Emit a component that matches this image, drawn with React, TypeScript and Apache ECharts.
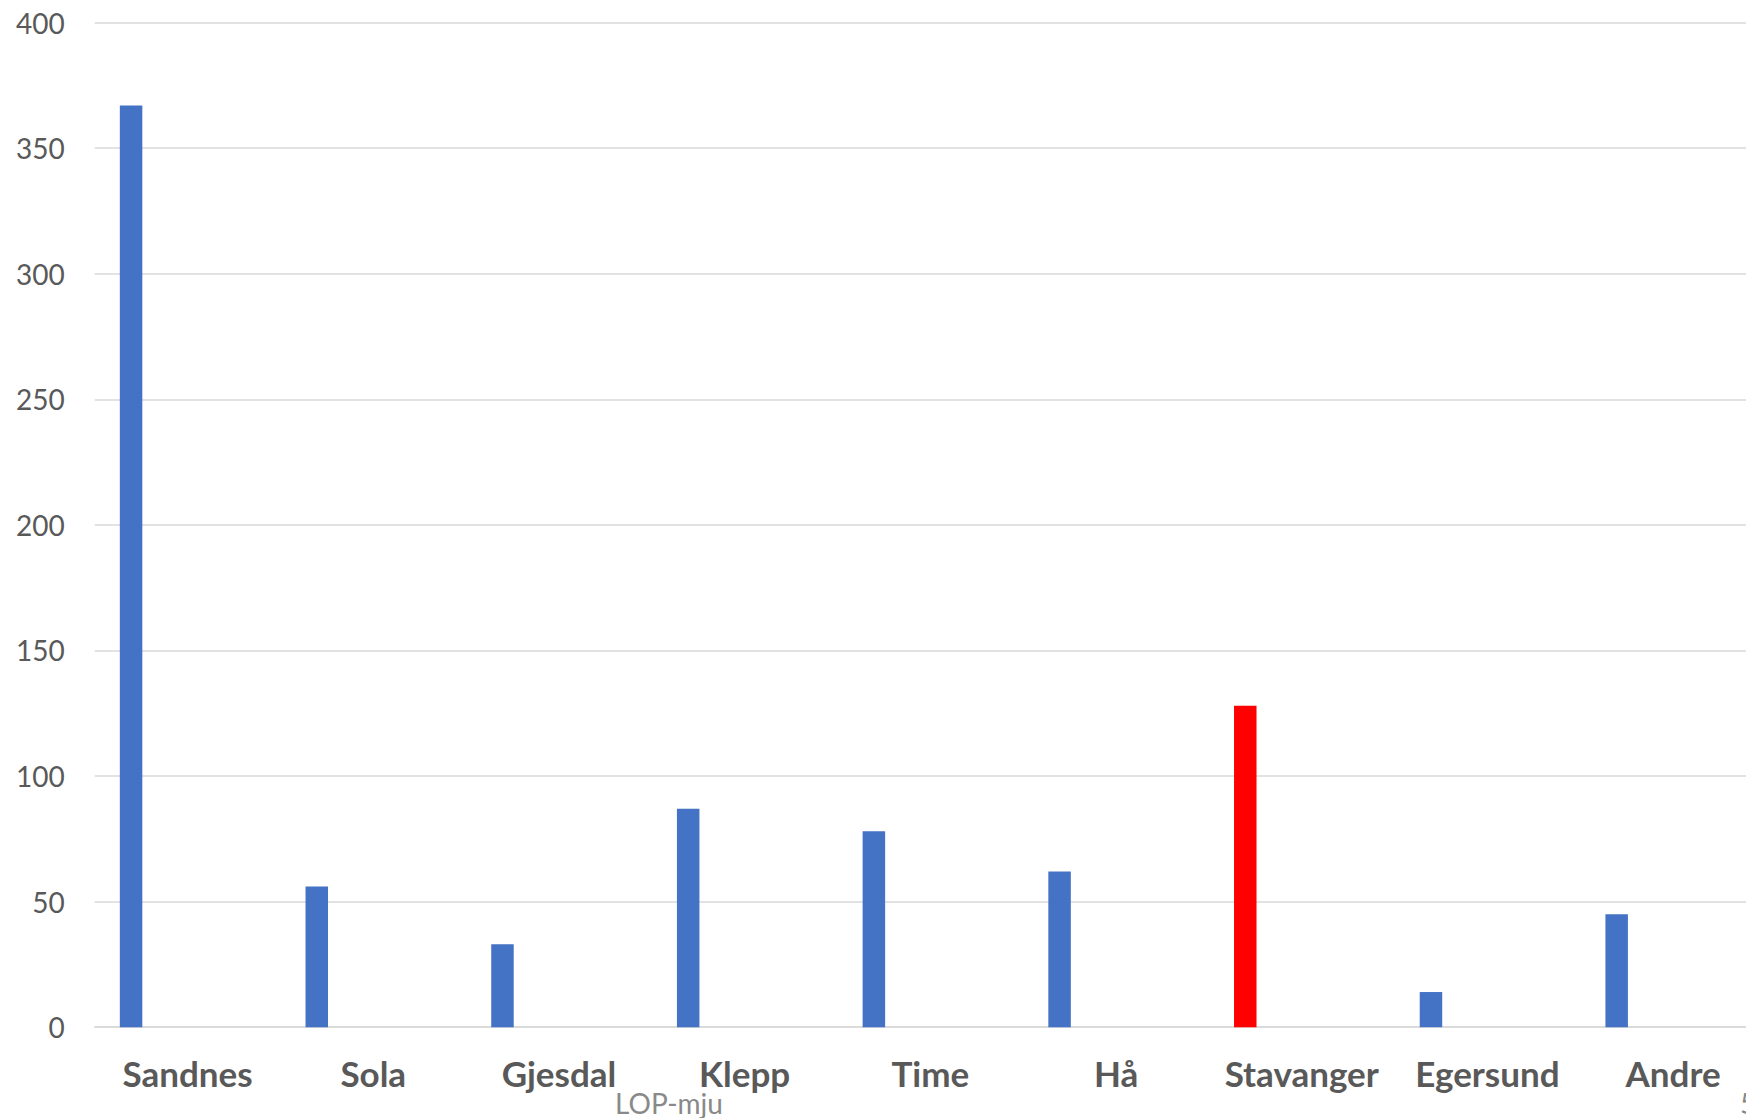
import React, { useEffect, useRef } from "react";
import * as echarts from "echarts";

const categories = ["Sandnes", "Sola", "Gjesdal", "Klepp", "Time", "Hå", "Stavanger", "Egersund", "Andre"];
const values = [367, 56, 33, 87, 78, 62, 128, 14, 45];
const highlighted = ["Stavanger"];
const yTicks = { min: 0, max: 400, interval: 50 };
const footerText = "LOP-mju";
const pageNumber = "5";

const BLUE = "#4472C4";
const RED = "#FF0000";
const FONT = "Lato, 'Open Sans', sans-serif";

export default function App() {
  const ref = useRef<HTMLDivElement | null>(null);

  useEffect(() => {
    if (!ref.current) return;
    const chart = echarts.init(ref.current, undefined, { renderer: "svg" });
    const option: any = {
      animation: false,
      backgroundColor: "#ffffff",
      grid: { left: 94.7, top: 22.6, width: 1671.3, height: 1004.6, containLabel: false },
      xAxis: {
        type: "category",
        data: categories,
        boundaryGap: true,
        axisLine: { show: true, lineStyle: { color: "#d9d9d9", width: 1.5 } },
        axisTick: { show: false },
        axisLabel: {
          interval: 0,
          margin: 28,
          color: "#595959",
          fontFamily: FONT,
          fontWeight: "bold",
          fontSize: 35,
        },
        splitLine: { show: false },
      },
      yAxis: {
        type: "value",
        min: yTicks.min,
        max: yTicks.max,
        interval: yTicks.interval,
        axisLine: { show: false },
        axisTick: { show: false },
        axisLabel: { margin: 30, color: "#595959", fontFamily: FONT, fontSize: 28 },
        splitLine: { show: true, lineStyle: { color: "#d9d9d9", width: 1.5 } },
      },
      series: [
        {
          type: "bar",
          barWidth: 22.5,
          barGap: "402%",
          data: values.map((v, i) => ({
            value: v,
            itemStyle: { color: highlighted.includes(categories[i]) ? RED : BLUE },
          })),
        },
        {
          type: "bar",
          barWidth: 22.5,
          data: categories.map(() => "-"),
        },
      ],
      graphic: [
        {
          type: "text",
          x: 669,
          y: 1089,
          style: {
            text: footerText,
            textAlign: "center",
            textVerticalAlign: "top",
            font: `28px ${FONT}`,
            fill: "#898989",
          },
        },
        {
          type: "text",
          x: 1740,
          y: 1089,
          style: {
            text: pageNumber,
            textAlign: "left",
            textVerticalAlign: "top",
            font: `28px ${FONT}`,
            fill: "#898989",
          },
        },
      ],
    };
    chart.setOption(option);
    return () => chart.dispose();
  }, []);

  return (
    <div style={{ position: "absolute", left: 0, top: 0, width: 1746, height: 1118, overflow: "hidden", background: "#fff" }}>
      <div ref={ref} style={{ position: "absolute", left: 0, top: 0, width: 1800, height: 1118 }} />
    </div>
  );
}
